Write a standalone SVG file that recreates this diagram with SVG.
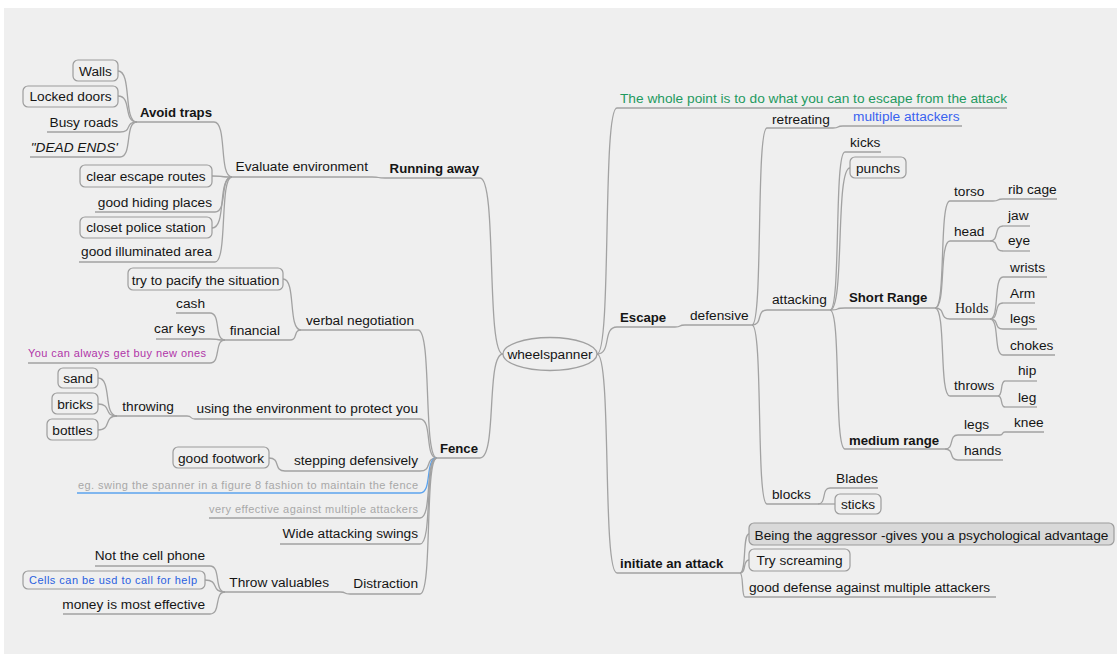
<svg xmlns="http://www.w3.org/2000/svg" width="1117" height="658" viewBox="0 0 1117 658">
<style>
text{font-family:"Liberation Sans",Arial,sans-serif;font-size:13.7px;fill:#151515}
.b{font-weight:bold;font-size:13.2px}
.e{text-anchor:end}
.m{text-anchor:middle}
.s{font-size:11px}
.c path,.u{fill:none;stroke:#a2a2a2;stroke-width:1.3}
.bub{fill:none;stroke:#9c9c9c;stroke-width:1.2}
</style>
<rect x="0" y="0" width="1117" height="658" fill="#ffffff"/>
<rect x="4" y="8" width="1113" height="646" fill="#efefef"/>
<g id="connectors" class="c">
<path d="M503,354 C485.8,354 497.3,178 480,178"/>
<path d="M503,354 C485.8,354 497.3,458 480,458"/>
<path d="M385,178 C375.3,178 381.8,177 372,177"/>
<path d="M232,177 C218.5,177 227.5,122 214,122"/>
<path d="M232,177 C217,177 227,176 212,176"/>
<path d="M232,177 C219.3,177 227.8,212 215,212"/>
<path d="M232,177 C217,177 227,228 212,228"/>
<path d="M232,177 C219.3,177 227.8,262 215,262"/>
<path d="M137,122 C122.8,122 132.3,71 118,71"/>
<path d="M137,122 C122.8,122 132.3,96 118,96"/>
<path d="M137,122 C124.3,122 132.8,132 120,132"/>
<path d="M137,122 C124.3,122 132.8,157 120,157"/>
<path d="M437,458 C422.8,458 432.3,330 418,330"/>
<path d="M301,330 C287.5,330 296.5,279 283,279"/>
<path d="M301,330 C292.8,330 298.3,340 290,340"/>
<path d="M225,340 C213.8,340 221.3,313 210,313"/>
<path d="M225,340 C213.8,340 221.3,339 210,339"/>
<path d="M225,340 C213.8,340 221.3,363 210,363"/>
<path d="M437,458 C424.3,458 432.8,419 420,419"/>
<path d="M195,419 C189,419 193,416 187,416"/>
<path d="M117,416 C102.8,416 112.3,378 98,378"/>
<path d="M117,416 C102.8,416 112.3,404 98,404"/>
<path d="M117,416 C102.8,416 112.3,430 98,430"/>
<path d="M437,458 C424.3,458 432.8,471 420,471"/>
<path d="M285,471 C273,471 281,458 269,458"/>
<path d="M437,458 C424.3,458 432.8,493 420,493" style="stroke:#5ba3ee"/>
<path d="M437,458 C424.3,458 432.8,518 420,518"/>
<path d="M437,458 C424.3,458 432.8,544 420,544"/>
<path d="M437,458 C424.3,458 432.8,594 420,594"/>
<path d="M350,594 C342.5,594 347.5,592 340,592"/>
<path d="M225,592 C213.8,592 221.3,566 210,566"/>
<path d="M225,592 C210,592 220,580 205,580"/>
<path d="M225,592 C213.8,592 221.3,614 210,614"/>
<path d="M597,354 C612,354 602,108 617,108"/>
<path d="M597,354 C612,354 602,327 617,327"/>
<path d="M597,354 C612,354 602,573 617,573"/>
<path d="M675,327 C682.5,327 677.5,325 685,325"/>
<path d="M752,325 C763.3,325 755.8,128 767,128"/>
<path d="M833,128 C840.5,128 835.5,126 843,126"/>
<path d="M752,325 C763.3,325 755.8,310 767,310"/>
<path d="M752,325 C763.3,325 755.8,504 767,504"/>
<path d="M830,310 C841.3,310 833.8,152 845,152"/>
<path d="M830,310 C845,310 835,168 850,168"/>
<path d="M830,310 C841.3,310 833.8,308 845,308"/>
<path d="M830,310 C841.3,310 833.8,449 845,449"/>
<path d="M935,308 C946.3,308 938.8,201 950,201"/>
<path d="M935,308 C946.3,308 938.8,241 950,241"/>
<path d="M935,308 C946.3,308 938.8,319 950,319"/>
<path d="M935,308 C946.3,308 938.8,396 950,396"/>
<path d="M993,201 C1000.5,201 995.5,199 1003,199"/>
<path d="M990,241 C999.8,241 993.3,226 1003,226"/>
<path d="M990,241 C999.8,241 993.3,251 1003,251"/>
<path d="M990,319 C999.8,319 993.3,277 1003,277"/>
<path d="M990,319 C999.8,319 993.3,303 1003,303"/>
<path d="M990,319 C999.8,319 993.3,329 1003,329"/>
<path d="M990,319 C999.8,319 993.3,355 1003,355"/>
<path d="M998,396 C1003.3,396 999.8,381 1005,381"/>
<path d="M998,396 C1003.3,396 999.8,407 1005,407"/>
<path d="M945,449 C954.8,449 948.3,435 958,435"/>
<path d="M945,449 C954.8,449 948.3,460 958,460"/>
<path d="M1000,435 C1003.8,435 1001.3,432 1005,432"/>
<path d="M818,504 C827,504 821,488 830,488"/>
<path d="M818,504 L835,504"/>
<path d="M740,573 C746.8,573 742.3,534 749,534"/>
<path d="M740,573 C746.8,573 742.3,560 749,560"/>
<path d="M740,573 C743.8,573 741.3,597 745,597"/>
</g>
<g id="root"><ellipse cx="550" cy="354" rx="47" ry="16.5" fill="none" stroke="#a0a0a0" stroke-width="1.3"/><text class="m" x="550" y="359">wheelspanner</text></g>
<g id="running"><text class="b e" x="479" y="173">Running away</text><line class="u" x1="385" y1="178" x2="480" y2="178"/></g>
<g id="evaluate"><text class="e" x="368" y="171">Evaluate environment</text><line class="u" x1="232" y1="177" x2="372" y2="177"/></g>
<g id="avoid"><text class="b e" x="212" y="117">Avoid traps</text><line class="u" x1="137" y1="122" x2="214" y2="122"/></g>
<g id="walls"><rect class="bub" x="73" y="60" width="45" height="21" rx="5"/><text class="m" x="95.5" y="76">Walls</text></g>
<g id="locked"><rect class="bub" x="23" y="86" width="95" height="21" rx="5"/><text class="m" x="70.5" y="101">Locked doors</text></g>
<g id="busy"><text class="e" x="118" y="127">Busy roads</text><line class="u" x1="47" y1="132" x2="120" y2="132"/></g>
<g id="dead"><text class="e" x="118" y="152" font-style="italic">"DEAD ENDS'</text><line class="u" x1="30" y1="157" x2="120" y2="157"/></g>
<g id="clear"><rect class="bub" x="80" y="165" width="132" height="22" rx="5"/><text class="m" x="146" y="181">clear escape routes</text></g>
<g id="hiding"><text class="e" x="212" y="207">good hiding places</text><line class="u" x1="95" y1="212" x2="215" y2="212"/></g>
<g id="closet"><rect class="bub" x="80" y="217" width="132" height="21" rx="5"/><text class="m" x="146" y="232">closet police station</text></g>
<g id="illum"><text class="e" x="212" y="256">good illuminated area</text><line class="u" x1="79" y1="262" x2="215" y2="262"/></g>
<g id="fence"><text class="b e" x="478" y="453">Fence</text><line class="u" x1="437" y1="458" x2="480" y2="458"/></g>
<g id="verbal"><text class="e" x="414" y="325">verbal negotiation</text><line class="u" x1="301" y1="330" x2="418" y2="330"/></g>
<g id="pacify"><rect class="bub" x="128" y="268" width="155" height="22" rx="5"/><text class="m" x="205.5" y="285">try to pacify the situation</text></g>
<g id="financial"><text class="e" x="280" y="335">financial</text><line class="u" x1="225" y1="340" x2="290" y2="340"/></g>
<g id="cash"><text class="e" x="205" y="308">cash</text><line class="u" x1="176" y1="313" x2="210" y2="313"/></g>
<g id="carkeys"><text class="e" x="205" y="333">car keys</text><line class="u" x1="156" y1="339" x2="210" y2="339"/></g>
<g id="youcan"><text class="s" x="28" y="357" textLength="178" lengthAdjust="spacing" style="fill:#b035a8">You can always get buy new ones</text><line class="u" x1="28" y1="363" x2="210" y2="363"/></g>
<g id="using"><text class="e" x="418" y="413">using the environment to protect you</text><line class="u" x1="195" y1="419" x2="420" y2="419"/></g>
<g id="throwing"><text class="e" x="174" y="411">throwing</text><line class="u" x1="117" y1="416" x2="187" y2="416"/></g>
<g id="sand"><rect class="bub" x="58" y="368" width="40" height="20" rx="5"/><text class="m" x="78" y="383">sand</text></g>
<g id="bricks"><rect class="bub" x="52" y="393" width="46" height="21" rx="5"/><text class="m" x="75" y="409">bricks</text></g>
<g id="bottles"><rect class="bub" x="47" y="419" width="51" height="21" rx="5"/><text class="m" x="72.5" y="435">bottles</text></g>
<g id="stepping"><text class="e" x="418" y="465">stepping defensively</text><line class="u" x1="285" y1="471" x2="420" y2="471"/></g>
<g id="footwork"><rect class="bub" x="173" y="447" width="96" height="21" rx="5"/><text class="m" x="221" y="463">good footwork</text></g>
<g id="eg"><text class="s" x="78" y="489" textLength="340" lengthAdjust="spacing" style="fill:#a8a8a8">eg. swing the spanner in a figure 8 fashion to maintain the fence</text><line class="u" x1="77" y1="493" x2="420" y2="493" style="stroke:#5ba3ee"/></g>
<g id="very"><text class="s" x="209" y="513" textLength="209" lengthAdjust="spacing" style="fill:#a8a8a8">very effective against multiple attackers</text><line class="u" x1="209" y1="518" x2="420" y2="518"/></g>
<g id="wide"><text class="e" x="418" y="538">Wide attacking swings</text><line class="u" x1="280" y1="544" x2="420" y2="544"/></g>
<g id="distraction"><text class="e" x="418" y="588">Distraction</text><line class="u" x1="350" y1="594" x2="420" y2="594"/></g>
<g id="throwval"><text class="e" x="329" y="587">Throw valuables</text><line class="u" x1="225" y1="592" x2="340" y2="592"/></g>
<g id="notcell"><text class="e" x="205" y="560">Not the cell phone</text><line class="u" x1="95" y1="566" x2="210" y2="566"/></g>
<g id="cells"><rect class="bub" x="23" y="571" width="182" height="18" rx="5"/><text class="s" x="29" y="584" textLength="168" lengthAdjust="spacing" style="fill:#2a5fe0">Cells can be usd to call for help</text></g>
<g id="money"><text class="e" x="205" y="609">money is most effective</text><line class="u" x1="63" y1="614" x2="210" y2="614"/></g>
<g id="whole"><text x="620" y="103" textLength="387" lengthAdjust="spacingAndGlyphs" style="fill:#1f9a5f">The whole point is to do what you can to escape from the attack</text><line class="u" x1="617" y1="108" x2="1007" y2="108"/></g>
<g id="escape"><text class="b" x="620" y="322">Escape</text><line class="u" x1="617" y1="327" x2="675" y2="327"/></g>
<g id="defensive"><text x="690" y="320">defensive</text><line class="u" x1="685" y1="325" x2="752" y2="325"/></g>
<g id="retreating"><text x="772" y="124">retreating</text><line class="u" x1="767" y1="128" x2="833" y2="128"/></g>
<g id="multiple"><text x="853" y="121" style="fill:#3a63f0">multiple attackers</text><line class="u" x1="843" y1="126" x2="962" y2="126"/></g>
<g id="attacking"><text x="772" y="304">attacking</text><line class="u" x1="767" y1="310" x2="830" y2="310"/></g>
<g id="kicks"><text x="850" y="147">kicks</text><line class="u" x1="845" y1="152" x2="881" y2="152"/></g>
<g id="punchs"><rect class="bub" x="850" y="157" width="56" height="21" rx="5"/><text class="m" x="878" y="173">punchs</text></g>
<g id="short"><text class="b" x="849" y="302">Short Range</text><line class="u" x1="845" y1="308" x2="935" y2="308"/></g>
<g id="torso"><text x="954" y="196">torso</text><line class="u" x1="950" y1="201" x2="993" y2="201"/></g>
<g id="rib"><text x="1008" y="194">rib cage</text><line class="u" x1="1003" y1="199" x2="1057" y2="199"/></g>
<g id="head"><text x="954" y="236">head</text><line class="u" x1="950" y1="241" x2="990" y2="241"/></g>
<g id="jaw"><text x="1008" y="220">jaw</text><line class="u" x1="1003" y1="226" x2="1030" y2="226"/></g>
<g id="eye"><text x="1008" y="245">eye</text><line class="u" x1="1003" y1="251" x2="1030" y2="251"/></g>
<g id="holds"><text x="955" y="313" style="font-family:'Liberation Serif','Times New Roman',serif;font-size:14px">Holds</text><line class="u" x1="950" y1="319" x2="990" y2="319"/></g>
<g id="wrists"><text x="1010" y="272">wrists</text><line class="u" x1="1003" y1="277" x2="1047" y2="277"/></g>
<g id="arm"><text x="1010" y="298">Arm</text><line class="u" x1="1003" y1="303" x2="1035" y2="303"/></g>
<g id="legs"><text x="1010" y="323">legs</text><line class="u" x1="1003" y1="329" x2="1037" y2="329"/></g>
<g id="chokes"><text x="1010" y="350">chokes</text><line class="u" x1="1003" y1="355" x2="1055" y2="355"/></g>
<g id="throws"><text x="954" y="390">throws</text><line class="u" x1="950" y1="396" x2="998" y2="396"/></g>
<g id="hip"><text x="1018" y="375">hip</text><line class="u" x1="1005" y1="381" x2="1037" y2="381"/></g>
<g id="leg"><text x="1018" y="402">leg</text><line class="u" x1="1005" y1="407" x2="1037" y2="407"/></g>
<g id="medium"><text class="b" x="849" y="445">medium range</text><line class="u" x1="845" y1="449" x2="945" y2="449"/></g>
<g id="legs2"><text x="964" y="429">legs</text><line class="u" x1="958" y1="435" x2="1000" y2="435"/></g>
<g id="knee"><text x="1014" y="427">knee</text><line class="u" x1="1005" y1="432" x2="1044" y2="432"/></g>
<g id="hands"><text x="964" y="455">hands</text><line class="u" x1="958" y1="460" x2="1003" y2="460"/></g>
<g id="blocks"><text x="772" y="499">blocks</text><line class="u" x1="767" y1="504" x2="818" y2="504"/></g>
<g id="blades"><text x="836" y="483">Blades</text><line class="u" x1="830" y1="488" x2="878" y2="488"/></g>
<g id="sticks"><rect class="bub" x="835" y="494" width="46" height="20" rx="5"/><text class="m" x="858" y="509">sticks</text></g>
<g id="initiate"><text class="b" x="620" y="568">initiate an attack</text><line class="u" x1="617" y1="573" x2="740" y2="573"/></g>
<g id="being"><rect x="749" y="523" width="365" height="22" rx="5" fill="#d9d9d9" stroke="#9c9c9c" stroke-width="1.2"/><text class="m" x="931.5" y="540">Being the aggressor -gives you a psychological advantage</text></g>
<g id="try"><rect class="bub" x="749" y="549" width="101" height="22" rx="5"/><text class="m" x="799.5" y="565">Try screaming</text></g>
<g id="gooddef"><text x="749" y="592">good defense against multiple attackers</text><line class="u" x1="745" y1="597" x2="996" y2="597"/></g>
</svg>
